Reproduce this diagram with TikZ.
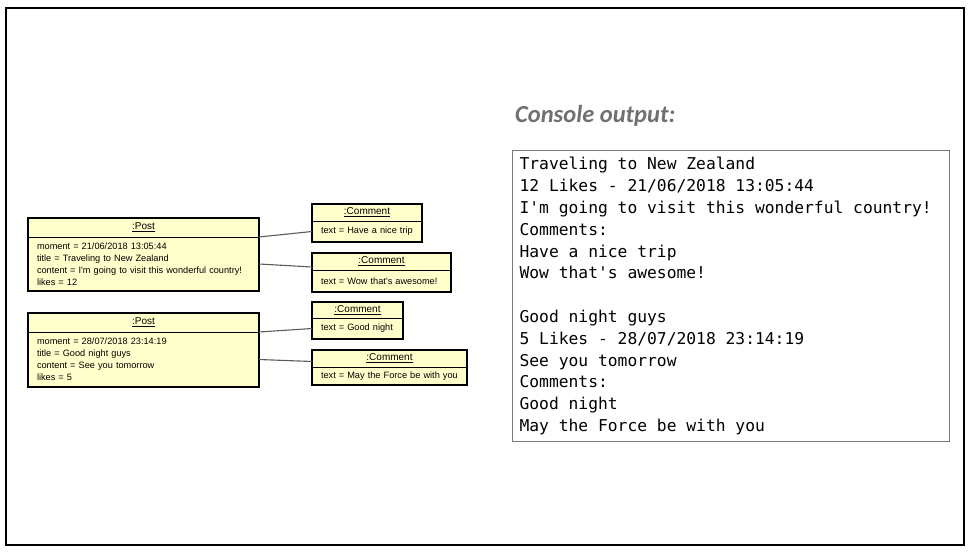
\documentclass[tikz,border=0pt]{standalone}
\usepackage{fontspec}
\usetikzlibrary{positioning}
\newfontfamily\umlfont{Liberation Sans}
\newfontfamily\consolefont{DejaVu Sans Mono}
\newfontfamily\titlefont{Carlito}
\newcommand{\ws}{\hspace*{0.602em}}
\definecolor{objfill}{HTML}{FFFFCC}
\definecolor{linkgray}{HTML}{5A5A5A}
\definecolor{consolegray}{HTML}{7A7A7A}
\definecolor{titlegray}{HTML}{707070}
\tikzset{
  objhead/.style={draw=black, line width=0.6pt, fill=objfill, inner sep=0pt, outer sep=0pt,
                  anchor=north west, font=\umlfont\fontsize{10}{12}\selectfont},
  objbody/.style={draw=black, line width=0.6pt, fill=objfill, inner xsep=9pt, inner ysep=0pt,
                  outer sep=0pt, align=left, font=\umlfont\fontsize{9.2}{12}\selectfont},
  objframe/.style={draw=black, line width=1.6pt},
  link/.style={draw=linkgray, line width=1.1pt},
  consolebox/.style={draw=consolegray, line width=1.2pt, anchor=north west, inner xsep=7pt,
                     inner ysep=0pt, align=left, font=\consolefont\fontsize{16.3}{21.8}\selectfont},
  titletext/.style={text=titlegray, inner sep=0pt, font=\titlefont\bfseries\itshape\fontsize{24.5}{28}\selectfont},
}
\begin{document}
\begin{tikzpicture}[x=1pt, y=-1pt]
  \useasboundingbox (0,0) rectangle (973,553);
  \draw[line width=1.6pt] (6,8) rectangle (964,545);

  % first post
  \node[objhead, minimum width=231pt, minimum height=19pt] (p1h) at (28,218) {\underline{:Post}};
  \node[objbody, below=0pt of p1h, text width=213pt, minimum height=54pt] (p1b)
    {moment = 21/06/2018 13:05:44\\title = Traveling to New Zealand\\
     content = I\textquotesingle m going to visit this wonderful country!\\likes = 12};
  \draw[objframe] (p1h.north west) rectangle (p1b.south east);
  \node[objhead, minimum width=110pt, minimum height=17pt] (c1h) at (312,204) {\underline{:Comment}};
  \node[objbody, below=0pt of c1h, text width=92pt, minimum height=21pt] (c1b) {text = Have a nice trip};
  \draw[objframe] (c1h.north west) rectangle (c1b.south east);
  \node[objhead, minimum width=139pt, minimum height=17pt] (c2h) at (312,253) {\underline{:Comment}};
  \node[objbody, below=0pt of c2h, text width=121pt, minimum height=22pt] (c2b) {text = Wow that\textquotesingle s awesome!};
  \draw[objframe] (c2h.north west) rectangle (c2b.south east);

  % second post
  \node[objhead, minimum width=231pt, minimum height=19pt] (p2h) at (28,313) {\underline{:Post}};
  \node[objbody, below=0pt of p2h, text width=213pt, minimum height=55pt] (p2b)
    {moment = 28/07/2018 23:14:19\\title = Good night guys\\content = See you tomorrow\\likes = 5};
  \draw[objframe] (p2h.north west) rectangle (p2b.south east);
  \node[objhead, minimum width=91pt, minimum height=16pt] (c3h) at (312,302) {\underline{:Comment}};
  \node[objbody, below=0pt of c3h, text width=73pt, minimum height=21pt] (c3b) {text = Good night};
  \draw[objframe] (c3h.north west) rectangle (c3b.south east);
  \node[objhead, minimum width=155pt, minimum height=17pt] (c4h) at (312,350) {\underline{:Comment}};
  \node[objbody, below=0pt of c4h, text width=137pt, minimum height=18pt] (c4b) {text = May the Force be with you};
  \draw[objframe] (c4h.north west) rectangle (c4b.south east);

  % links
  \draw[link] (p1h.south east) -- (c1b.west);
  \draw[link] (p1b.east) -- ([yshift=3pt]c2h.south west);
  \draw[link] (p2h.south east) -- (c3b.west);
  \draw[link] (p2b.east) -- ([yshift=-3pt]c4h.west);

  % console
  \node[titletext, anchor=base west] (title) at (515,123) {Console output:};
  \node[consolebox, minimum width=437pt, minimum height=291pt, text width=423pt] (console) at (512,150)
    {Traveling\ws to\ws New\ws Zealand\\12\ws Likes\ws -\ws 21/06/2018\ws 13:05:44\\
     I\textquotesingle m\ws going\ws to\ws visit\ws this\ws wonderful\ws country!\\Comments:\\
     Have\ws a\ws nice\ws trip\\Wow\ws that\textquotesingle s\ws awesome!\\~\\
     Good\ws night\ws guys\\5\ws Likes\ws -\ws 28/07/2018\ws 23:14:19\\
     See\ws you\ws tomorrow\\Comments:\\Good\ws night\\May\ws the\ws Force\ws be\ws with\ws you};
\end{tikzpicture}
\end{document}
